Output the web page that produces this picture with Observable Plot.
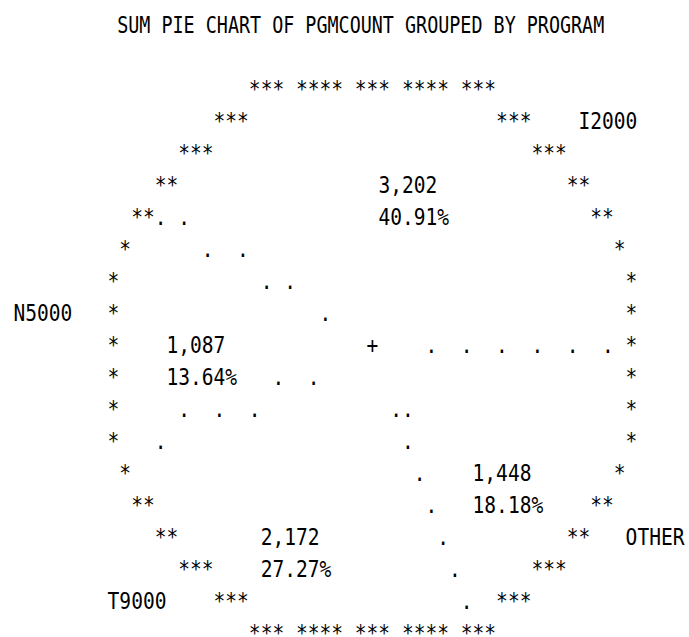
<!DOCTYPE html>
<html>
<head>
<meta charset="utf-8">
<script src="https://cdn.jsdelivr.net/npm/d3@7"></script>
<script src="https://cdn.jsdelivr.net/npm/@observablehq/plot@0.6"></script>
<style>
  html, body { margin: 0; padding: 0; background: #fff; }
  #chart svg { display: block; }
</style>
</head>
<body>
<div id="chart"></div>
<script>
// ---- data ----
const chartTitle = "SUM PIE CHART OF PGMCOUNT GROUPED BY PROGRAM";
const programs = ["I2000", "N5000", "T9000", "OTHER"];
const pgmcount = [3202, 1087, 2172, 1448];
const percents = [40.91, 13.64, 27.27, 18.18];

// ---- line-printer grid layout (style constants, not data) ----
const GRID = {cols: 59, rows: 18, cx: 30, cy: 8.5, hub: 8, a: 22.4, b: 9.39};
const PITCH_X = 11.773, PITCH_Y = 32, X0 = 18.8, BASE0 = 96.7;
const TITLE_PITCH = 11.07;
const FONT = "DejaVu Sans Mono", FONT_SIZE = 22.6;

const cells = new Map();
const key = (c, r) => c + "," + r;
function put(c, r, ch, overwrite = true) {
  const k = key(c, r);
  if (!overwrite && cells.has(k)) return;
  cells.set(k, {col: c, row: r, ch});
}
function putText(c0, r, str) {
  [...str].forEach((ch, i) => { if (ch !== " ") put(c0 + i, r, ch); });
}

// pie outline (ellipse on the character grid)
const half = dy => GRID.a * Math.sqrt(Math.max(0, 1 - (dy / GRID.b) ** 2));
for (let r = 0; r < GRID.rows; r++) {
  const dy = Math.abs(r - GRID.cy);
  const outer = Math.round(half(dy));
  if (dy >= GRID.cy - 1e-9) {
    // pole rows: the arc is sampled at a fixed angular step
    const step = Math.asin(1.3 / GRID.a);
    for (let k = 0; ; k++) {
      const off = Math.round(GRID.a * Math.sin(k * step));
      if (off > outer) break;
      put(GRID.cx - off, r, "*");
      put(GRID.cx + off, r, "*");
    }
  } else {
    const next = Math.round(half(dy + 1));
    for (let off = outer; off >= Math.min(outer, next + 1); off--) {
      put(GRID.cx - off, r, "*");
      put(GRID.cx + off, r, "*");
    }
  }
}

// hub
put(GRID.cx, GRID.hub, "+");

// slice angles from the percentages (counter-clockwise from 3 o'clock)
const cum = d3.cumsum(percents);
const startPct = [0, ...cum.slice(0, -1)];
const rad = p => p * 3.6 * Math.PI / 180;
const fmtCount = d3.format(",");

programs.forEach((name, i) => {
  const mid = rad(startPct[i] + percents[i] / 2);
  // value + percent inside the slice
  const ax = GRID.cx + GRID.a * Math.cos(mid) * 0.62;
  const ay = GRID.cy - GRID.b * Math.sin(mid) * 0.62;
  const c0 = Math.round(ax - 3), r0 = Math.round(ay);
  putText(c0, r0, fmtCount(pgmcount[i]));
  putText(c0, r0 + 1, percents[i].toFixed(2) + "%");
  // category name outside the pie
  const lr = Math.min(GRID.rows - 2, Math.max(1, Math.round(GRID.cy - GRID.b * Math.sin(mid))));
  const gap = Math.round(half(Math.abs(lr - GRID.cy)) + 4.3);
  if (Math.cos(mid) >= 0) putText(GRID.cx + gap, lr, name);
  else putText(GRID.cx - gap - name.length + 1, lr, name);
});

// slice boundaries: dotted segments from the hub to the rim
const ASPECT = 3.3, STEP = 3, T0 = 5.5, RHO_MAX = 0.975;
startPct.forEach(p => {
  const th = rad(p);
  const ex = GRID.cx + GRID.a * Math.cos(th);
  const ey = GRID.cy - GRID.b * Math.sin(th);
  const dx = ex - GRID.cx, dy = ey - GRID.hub;
  const L = Math.hypot(dx, ASPECT * dy);
  for (let t = T0; t / L <= RHO_MAX; t += STEP) {
    const c = Math.round(GRID.cx + dx * t / L);
    const r = Math.round(GRID.hub + dy * t / L);
    put(c, r, ".", false);
  }
});

// group neighbouring characters of a row into runs of text
const runs = [];
d3.groups(Array.from(cells.values()), d => d.row).forEach(([row, arr]) => {
  arr.sort((u, v) => u.col - v.col);
  let cur = null;
  for (const g of arr) {
    if (cur && g.col === cur.col + cur.text.length) cur.text += g.ch;
    else { cur = {row, col: g.col, text: g.ch}; runs.push(cur); }
  }
});

const svg = Plot.plot({
  width: 689,
  height: 637,
  margin: 0,
  style: {background: "#fff"},
  x: {type: "linear", domain: [0, GRID.cols - 1], range: [X0, X0 + (GRID.cols - 1) * PITCH_X], axis: null},
  y: {type: "linear", domain: [-2, GRID.rows - 1], range: [BASE0 - 2 * PITCH_Y, BASE0 + (GRID.rows - 1) * PITCH_Y], axis: null},
  marks: [
    Plot.text(runs, {
      x: d => d.col - 0.5, y: "row", text: "text",
      fontFamily: FONT, fontSize: FONT_SIZE, fill: "#000",
      textAnchor: "start", lineAnchor: "bottom"
    }),
    Plot.text([chartTitle], {
      x: () => (GRID.cols - 1) / 2, y: () => -2, text: d => d,
      fontFamily: FONT, fontSize: FONT_SIZE, fill: "#000",
      textAnchor: "middle", lineAnchor: "bottom"
    })
  ]
});

d3.select(svg).selectAll("text").each(function () {
  const s = this.textContent;
  const pitch = s === chartTitle ? TITLE_PITCH : PITCH_X;
  this.setAttribute("textLength", s.length * pitch);
  this.setAttribute("lengthAdjust", "spacingAndGlyphs");
});

document.getElementById("chart").appendChild(svg);
</script>
</body>
</html>
